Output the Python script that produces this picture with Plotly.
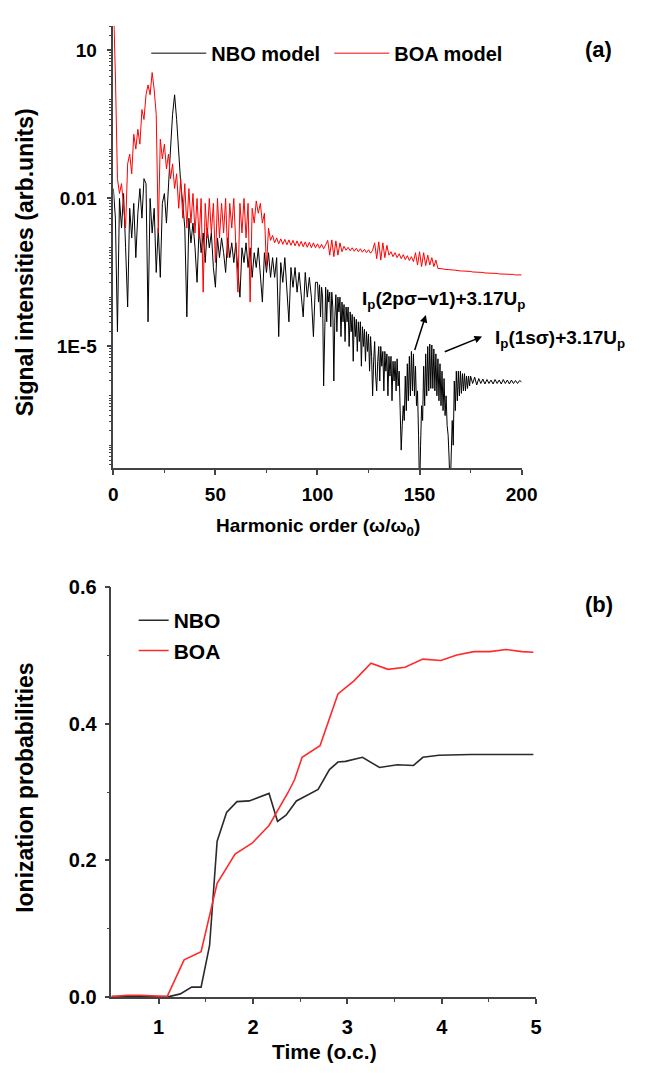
import numpy as np
import plotly.graph_objects as go

# ---------------- data: panel (a) HHG spectra ----------------
# harmonic orders sampled for the NBO curve (finer sampling in the dense 100-175 region)
nbo_order = list(range(0, 100)) + [100 + 0.5 * i for i in range(151)] + list(range(176, 201))
boa_order = list(range(0, 201))

# log10 of signal intensity
nbo_log10 = [
    # 0 - 99 (step 1)
    -1.8, -2.4, -4.7, -2.0, -2.6, -1.9, -3.0, -4.2, -2.2, -2.8,
    -2.1, -3.2, -2.3, -1.8, -2.4, -1.6, -1.7, -4.5, -2.0, -2.7,
    -2.2, -3.5, -2.6, -3.6, -2.1, -1.9, -2.5, -1.6, -1.0, -0.3,
    0.1, -0.4, -1.1, -1.7, -2.1, -2.6, -4.4, -2.4, -2.9, -2.5,
    -3.0, -3.7, -2.6, -3.1, -2.7, -3.3, -2.6, -3.0, -2.7, -3.4,
    -3.8, -2.8, -3.2, -2.8, -3.1, -3.5, -2.8, -3.2, -2.9, -3.3,
    -2.9, -3.4, -4.0, -3.0, -3.3, -2.9, -3.4, -3.0, -3.6, -3.1,
    -3.4, -3.0, -3.5, -4.1, -3.1, -3.5, -3.1, -3.6, -3.2, -3.6,
    -3.2, -4.8, -3.3, -3.7, -3.2, -3.8, -4.5, -3.4, -3.8, -3.4,
    -3.9, -3.5, -3.9, -4.4, -3.5, -4.0, -3.6, -4.0, -4.8, -3.7,
    # 100 - 175 (step 0.5)
    -3.7, -4.1, -3.75, -4.4, -3.8, -4.0, -5.8, -4.3, -3.8, -4.5,
    -3.85, -4.1, -3.9, -4.6, -3.9, -4.2, -5.7, -4.4, -3.95, -4.7,
    -4.0, -4.3, -4.0, -4.8, -4.1, -4.5, -4.15, -4.9, -4.2, -4.5,
    -4.2, -5.0, -4.3, -4.7, -4.35, -5.3, -4.4, -4.8, -4.45, -5.1,
    -4.5, -4.9, -4.5, -5.4, -4.6, -5.0, -4.65, -5.3, -4.7, -5.1,
    -4.75, -5.5, -4.8, -5.2, -6.0, -5.3, -4.9, -5.6, -5.9, -5.3,
    -5.0, -5.7, -5.0, -5.4, -5.1, -5.9, -5.1, -5.5, -5.15, -6.0,
    -5.2, -5.6, -5.2, -6.1, -5.3, -5.7, -5.3, -5.9, -5.25, -5.8,
    -5.5, -6.3, -7.1, -6.6, -6.2, -6.5, -5.6, -6.3, -5.35, -6.1,
    -5.2, -6.0, -5.1, -5.9, -5.15, -6.0, -5.4, -6.2, -5.9, -6.8,
    -8.0, -7.0, -6.2, -6.5, -5.4, -6.2, -5.15, -6.0, -5.0, -5.9,
    -4.95, -5.85, -4.97, -5.85, -5.05, -5.9, -5.15, -6.0, -5.25, -6.1,
    -5.35, -6.2, -5.5, -6.3, -5.65, -6.4, -6.0, -6.6, -6.8, -7.3,
    -8.0, -7.2, -6.5, -7.0, -5.7, -6.3, -5.5, -6.1, -5.5, -6.0,
    -5.5, -5.95, -5.55, -5.9, -5.55, -5.9, -5.6, -5.85, -5.6, -5.8,
    -5.6,
    # 176 - 200 (step 1)
    -5.75, -5.62, -5.78, -5.65,
    -5.75, -5.66, -5.76, -5.67, -5.75, -5.68, -5.76, -5.67, -5.75, -5.68,
    -5.76, -5.67, -5.75, -5.68, -5.76, -5.68, -5.75, -5.69, -5.75, -5.69,
    -5.72,
]

boa_log10 = [
    2.0, 0.5, -1.6, -1.9, -1.7, -2.1, -2.6, -1.3, -1.1, -1.5,
    -0.7, -1.0, -0.6, -0.9, -0.2, -0.4, 0.1, 0.3, 0.1, 0.55,
    0.2, -0.3, -2.7, -0.8, -1.2, -0.9, -1.4, -1.1, -1.6, -1.3,
    -1.8, -1.5, -2.2, -1.6, -2.4, -1.7, -2.6, -1.8, -2.5, -1.9,
    -2.7, -2.0, -2.8, -2.0, -3.9, -2.1, -2.8, -2.0, -2.7, -2.1,
    -3.3, -2.0, -2.8, -2.1, -2.7, -2.0, -3.2, -2.1, -2.6, -2.0,
    -2.9, -3.9, -2.1, -2.7, -2.0, -2.8, -2.1, -4.1, -2.2, -2.5,
    -2.05, -2.3, -2.1, -2.5, -2.3, -3.4, -2.6, -2.85, -2.75, -2.9,
    -2.8, -2.92, -2.82, -2.93, -2.83, -2.94, -2.84, -2.95, -2.85, -2.96,
    -2.86, -2.97, -2.87, -2.98, -2.88, -2.99, -2.89, -3.0, -2.9, -3.0,
    -2.92, -3.01, -2.93, -3.02, -2.94, -2.85, -3.15, -2.84, -3.18, -2.86,
    -3.15, -2.9, -3.08, -2.97, -3.05, -2.99, -3.06, -3.0, -3.07, -3.01,
    -3.08, -3.02, -3.09, -3.03, -3.1, -3.04, -3.11, -3.05, -2.9, -3.22,
    -2.88, -3.25, -2.9, -3.2, -2.95, -3.15, -3.08, -3.18, -3.1, -3.2,
    -3.12, -3.22, -3.14, -3.24, -3.16, -3.26, -3.18, -3.28, -3.1, -3.35,
    -3.08, -3.38, -3.1, -3.36, -3.15, -3.35, -3.2, -3.38, -3.25, -3.42,
    -3.42, -3.43, -3.43, -3.44, -3.44, -3.45, -3.45, -3.45, -3.46, -3.46,
    -3.47, -3.47, -3.47, -3.48, -3.48, -3.48, -3.49, -3.49, -3.5, -3.5,
    -3.5, -3.5, -3.51, -3.51, -3.51, -3.52, -3.52, -3.52, -3.52, -3.53,
    -3.53, -3.53, -3.53, -3.54, -3.54, -3.54, -3.54, -3.55, -3.55, -3.55,
    -3.55,
]

spec_tickvals = [1e-5, 0.01, 10]
spec_ticktext = ["1E-5", "0.01", "10"]

# ---------------- data: panel (b) ionization probabilities ----------------
t_nbo = [0.5, 1.0, 1.11, 1.23, 1.35, 1.45, 1.54, 1.62, 1.72, 1.83, 1.96, 2.17,
         2.26, 2.35, 2.46, 2.69, 2.81, 2.90, 2.98, 3.16, 3.34, 3.53, 3.70, 3.80,
         3.97, 4.31, 4.65, 4.97]
p_nbo = [0.0, 0.0, 0.0, 0.004, 0.014, 0.014, 0.075, 0.228, 0.270, 0.286, 0.287, 0.298,
         0.257, 0.266, 0.287, 0.304, 0.333, 0.344, 0.345, 0.351, 0.336, 0.340, 0.339, 0.351,
         0.354, 0.355, 0.355, 0.355]

t_boa = [0.5, 0.67, 0.81, 1.09, 1.27, 1.45, 1.62, 1.81, 1.99, 2.17, 2.37, 2.44, 2.52,
         2.71, 2.90, 3.07, 3.25, 3.43, 3.61, 3.80, 3.99, 4.16, 4.34, 4.51, 4.68, 4.85, 4.97]
p_boa = [0.0, 0.002, 0.002, 0.0, 0.054, 0.066, 0.166, 0.209, 0.225, 0.251, 0.299, 0.318, 0.351,
         0.368, 0.444, 0.463, 0.489, 0.480, 0.483, 0.495, 0.493, 0.501, 0.506, 0.506, 0.509, 0.506, 0.505]

# ---------------- figure ----------------
W, H = 646, 1073
FONT = "Arial, Liberation Sans, Helvetica, sans-serif"
AX = "#444444"


def px(x):
    return x / W


def py(y):
    return 1 - y / H


fig = go.Figure()

fig.add_trace(go.Scatter(x=nbo_order, y=np.power(10.0, nbo_log10), mode="lines",
                         name="NBO model", line=dict(color="black", width=1),
                         xaxis="x", yaxis="y", legend="legend"))
fig.add_trace(go.Scatter(x=boa_order, y=np.power(10.0, boa_log10), mode="lines",
                         name="BOA model", line=dict(color="#ff0000", width=1),
                         xaxis="x", yaxis="y", legend="legend"))

fig.add_trace(go.Scatter(x=t_nbo, y=p_nbo, mode="lines", name="NBO",
                         line=dict(color="#2a2a2a", width=1.6),
                         xaxis="x2", yaxis="y2", legend="legend2"))
fig.add_trace(go.Scatter(x=t_boa, y=p_boa, mode="lines", name="BOA",
                         line=dict(color="#ff2a2a", width=1.6),
                         xaxis="x2", yaxis="y2", legend="legend2"))

# log-axis minor ticks: unlabeled decades and 2..9 sub-decades
minor_log = [m * 10.0 ** k for k in range(-8, 2) for m in range(1, 10)
             if not (m == 1 and 10.0 ** k in (1e-5, 1e-2, 10.0))]

common = dict(showline=True, linecolor=AX, linewidth=1.5, ticks="outside", tickcolor=AX,
              tickwidth=1.5, showgrid=False, zeroline=False, mirror=False)
tf_top = dict(family=FONT, size=19, color="black", weight="bold")
tf_bot = dict(family=FONT, size=20, color="black", weight="bold")

fig.update_layout(
    width=W, height=H, margin=dict(l=0, r=0, t=0, b=0),
    paper_bgcolor="white", plot_bgcolor="white",
    font=dict(family=FONT, color="black"),
    xaxis=dict(domain=[px(112), px(534)], anchor="y", range=[0, 200],
               tickmode="array", tickvals=[0, 50, 100, 150, 200], ticklen=5,
               minor=dict(tickvals=[25, 75, 125, 175], ticklen=3, ticks="outside",
                          tickcolor=AX, tickwidth=1.2),
               ticklabelstandoff=4, tickfont=tf_top, **common),
    yaxis=dict(domain=[py(466), py(15)], anchor="x", type="log", range=[-7.46, 1.5],
               tickmode="array", tickvals=spec_tickvals, ticktext=spec_ticktext, ticklen=5,
               minor=dict(tickvals=minor_log, ticklen=3, ticks="outside",
                          tickcolor=AX, tickwidth=1),
               ticklabelstandoff=6, tickfont=tf_top, **common),
    xaxis2=dict(domain=[px(110), px(549)], anchor="y2", range=[0.5, 5],
                tickmode="array", tickvals=[1, 2, 3, 4, 5], ticklen=5,
                minor=dict(tickvals=[1.5, 2.5, 3.5, 4.5], ticklen=3, ticks="outside",
                           tickcolor=AX, tickwidth=1.2),
                ticklabelstandoff=6, tickfont=tf_bot, **common),
    yaxis2=dict(domain=[py(1006), py(588)], anchor="x2", range=[-0.001, 0.6],
                tickmode="array", tickvals=[0, 0.2, 0.4, 0.6], ticktext=["0.0", "0.2", "0.4", "0.6"],
                ticklen=5,
                minor=dict(tickvals=[0.1, 0.3, 0.5], ticklen=3, ticks="outside",
                           tickcolor=AX, tickwidth=1.2),
                ticklabelstandoff=4, tickfont=tf_bot, **common),
    legend=dict(orientation="h", x=px(146), xanchor="left", y=py(43), yanchor="middle",
                font=dict(family=FONT, size=20, color="black", weight="bold"),
                bgcolor="rgba(0,0,0,0)", itemwidth=55, entrywidth=113, tracegroupgap=0),
    legend2=dict(orientation="v", x=px(133), xanchor="left", y=py(637), yanchor="middle",
                 font=dict(family=FONT, size=21, color="black", weight="bold"),
                 bgcolor="rgba(0,0,0,0)", tracegroupgap=0),
    showlegend=True,
)

ann_font = dict(family=FONT, color="black", weight="bold")


def label(text, x, y, size, angle=0):
    return dict(text=text, x=px(x), y=py(y), xref="paper", yref="paper",
                xanchor="center", yanchor="middle", textangle=angle,
                showarrow=False, font=dict(size=size, **ann_font))


annotations = [
    label("Signal intensities (arb.units)", 21, 256, 23, -90),
    label("Harmonic order (ω/ω<sub>0</sub>)", 323, 526, 19),
    label("Ionization probabilities", 21, 792, 23, -90),
    label("Time (o.c.)", 330, 1061, 21),
    label("(a)", 613, 39, 22),
    label("(b)", 614, 605, 22),
    label("I<sub>p</sub>(2pσ−v1)+3.17U<sub>p</sub>", 453, 295, 19),
    label("I<sub>p</sub>(1sσ)+3.17U<sub>p</sub>", 574, 335, 19),
    dict(text="", x=153.1, y=-4.36, ax=147.4, ay=-5.10, xref="x", yref="y", axref="x", ayref="y",
         showarrow=True, arrowhead=2, arrowsize=1, arrowwidth=1.5, arrowcolor="black"),
    dict(text="", x=180.6, y=-4.80, ax=161.6, ay=-5.12, xref="x", yref="y", axref="x", ayref="y",
         showarrow=True, arrowhead=2, arrowsize=1, arrowwidth=1.5, arrowcolor="black"),
]
fig.update_layout(annotations=annotations)

fig.write_html("out.html")
